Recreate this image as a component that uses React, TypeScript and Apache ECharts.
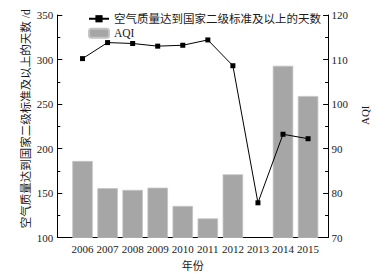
import React, { useEffect, useRef } from "react";
import * as echarts from "echarts";

const years = ["2006", "2007", "2008", "2009", "2010", "2011", "2012", "2013", "2014", "2015"];
const goodDays = [301, 319, 318, 315, 316, 322, 293, 139, 216, 211];
const aqi: (number | null)[] = [87.2, 81.1, 80.7, 81.2, 77.1, 74.3, 84.2, null, 108.6, 101.8];
const daysName = "空气质量达到国家二级标准及以上的天数";
const daysAxisName = "空气质量达到国家二级标准及以上的天数 /d";
const aqiName = "AQI";
const xName = "年份";

const FONT = '"Liberation Serif", "Times New Roman", "Noto Sans CJK SC", serif';
const TXT = "#1a1a1a";

export default function App() {
  const ref = useRef<HTMLDivElement>(null);
  useEffect(() => {
    if (!ref.current) return;
    const chart = echarts.init(ref.current, undefined, { renderer: "svg" });
    const axisLine = { show: true, lineStyle: { color: "#000", width: 1 } };
    const tick = { show: true, inside: true, length: 5, lineStyle: { color: "#000" } };
    const minor = { show: true, splitNumber: 2, length: 3, lineStyle: { color: "#000" } };
    chart.setOption({
      animation: false,
      backgroundColor: "#fff",
      textStyle: { fontFamily: FONT, color: TXT },
      legend: {
        orient: "vertical",
        left: 83,
        top: 8,
        itemWidth: 20,
        itemHeight: 9,
        itemGap: 3,
        textStyle: { fontFamily: FONT, fontSize: 11.5, color: TXT },
        data: [daysName, aqiName],
      },
      grid: [
        { left: 57.3, right: 47.5, top: 15, bottom: 40.5, containLabel: false },
        { left: 70, right: 57.4, top: 15, bottom: 40.5, containLabel: false },
      ],
      xAxis: [
        {
          type: "value",
          gridIndex: 0,
          min: 0,
          max: 1,
          axisLine,
          axisTick: { show: false },
          axisLabel: { show: false },
          splitLine: { show: false },
          name: xName,
          nameLocation: "middle",
          nameGap: 23,
          nameTextStyle: { fontFamily: FONT, fontSize: 11, color: TXT },
        },
        {
          type: "category",
          gridIndex: 1,
          data: years,
          boundaryGap: true,
          axisLine: { show: false },
          axisTick: { show: false },
          axisLabel: { interval: 0, margin: 6, fontFamily: FONT, fontSize: 11, color: TXT },
          splitLine: { show: false },
        },
      ],
      yAxis: [
        {
          type: "value",
          gridIndex: 0,
          position: "left",
          min: 100,
          max: 350,
          interval: 50,
          axisLine,
          axisTick: tick,
          minorTick: minor,
          axisLabel: { margin: 4, fontFamily: FONT, fontSize: 11, color: TXT },
          splitLine: { show: false },
          name: daysAxisName,
          nameLocation: "middle",
          nameRotate: 90,
          nameGap: 26,
          nameMoveOverlap: false,
          nameTextStyle: { fontFamily: FONT, fontSize: 11.5, color: TXT, padding: [0, 0, 0, 15] },
        },
        {
          type: "value",
          gridIndex: 0,
          position: "right",
          min: 70,
          max: 120,
          interval: 10,
          axisLine,
          axisTick: tick,
          minorTick: minor,
          axisLabel: { margin: 3.5, fontFamily: FONT, fontSize: 11, color: TXT },
          splitLine: { show: false },
          name: aqiName,
          nameLocation: "middle",
          nameRotate: 90,
          nameGap: 28,
          nameTextStyle: { fontFamily: FONT, fontSize: 11, color: TXT, padding: [0, 0, 0, 22] },
        },
        { type: "value", gridIndex: 1, min: 100, max: 350, show: false, splitLine: { show: false } },
        { type: "value", gridIndex: 1, min: 70, max: 120, show: false, splitLine: { show: false } },
      ],
      series: [
        {
          name: aqiName,
          type: "bar",
          xAxisIndex: 1,
          yAxisIndex: 3,
          data: aqi,
          barWidth: 20.5,
          itemStyle: { color: "#a6a6a6", borderColor: "#c4c4c4", borderWidth: 0.8 },
          z: 1,
        },
        {
          name: daysName,
          type: "line",
          xAxisIndex: 1,
          yAxisIndex: 2,
          data: goodDays,
          symbol: "rect",
          symbolSize: 5,
          lineStyle: { color: "#000", width: 1 },
          itemStyle: { color: "#000" },
          z: 3,
        },
      ],
    });
    return () => chart.dispose();
  }, []);
  return <div ref={ref} style={{ width: 378, height: 278, position: "absolute", left: 0, top: 0 }} />;
}
